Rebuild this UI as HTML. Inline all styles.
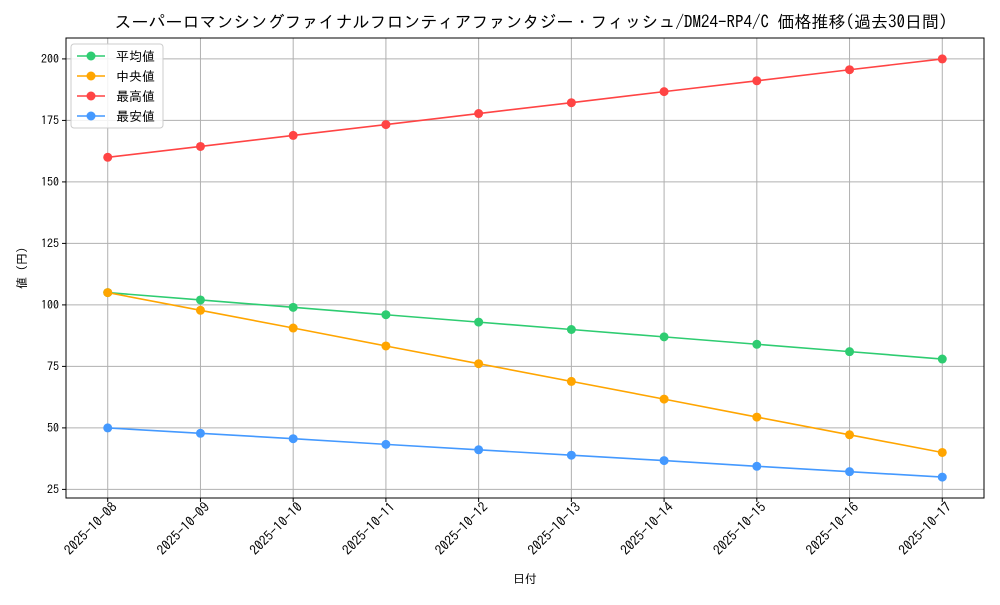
<!DOCTYPE html>
<html><head><meta charset="utf-8"><style>
body{margin:0;background:#fff}
svg text{font-family:"IPAGothic","Noto Sans CJK JP",monospace;fill:#000}
</style></head><body>
<svg id="chart" width="1000" height="600"></svg>
<script>
const dates=["2025-10-08","2025-10-09","2025-10-10","2025-10-11","2025-10-12","2025-10-13","2025-10-14","2025-10-15","2025-10-16","2025-10-17"];
const avgValues=[105,102,99,96,93,90,87,84,81,78];
const medianValues=[105,97.8,90.6,83.3,76.1,68.9,61.7,54.4,47.2,40];
const maxValues=[160,164.4,168.9,173.3,177.8,182.2,186.7,191.1,195.6,200];
const minValues=[50,47.8,45.6,43.3,41.1,38.9,36.7,34.4,32.2,30];
const yTicks=[25,50,75,100,125,150,175,200];
const seriesNames=["平均値","中央値","最高値","最安値"];
const seriesColors=["#2ecc71","#ffa500","#ff4444","#4499ff"];
const NS="http://www.w3.org/2000/svg";
const svg=document.getElementById('chart');
const L=66,R=984,T=38,B=498;
const all=[...avgValues,...medianValues,...maxValues,...minValues];
const mn=Math.min(...all),mx=Math.max(...all),pad=(mx-mn)*0.05;
const y0=mn-pad,y1=mx+pad;
const xs=i=>L+(R-L)*(i+0.45)/(dates.length-1+0.9);
const ys=v=>B-(B-T)*(v-y0)/(y1-y0);
function el(t,a,p){const e=document.createElementNS(NS,t);for(const k in a)e.setAttribute(k,a[k]);(p||svg).appendChild(e);return e;}
yTicks.forEach(v=>{const y=ys(v);
const g=el('line',{x1:L,x2:R,y1:y,y2:y,stroke:'#b0b0b0','stroke-width':1});


el('line',{x1:L-4,x2:L,y1:y,y2:y,stroke:'#000'});
const t=el('text',{x:L-7,y:y+4,'text-anchor':'end','font-size':12});t.textContent=v;


});
dates.forEach((d,i)=>{const x=xs(i);
const g=el('line',{x1:x,x2:x,y1:T,y2:B,stroke:'#b0b0b0','stroke-width':1});


el('line',{x1:x,x2:x,y1:B,y2:B+4,stroke:'#000'});
const ax=x+10,ay=B+10;
const t=el('text',{x:ax,y:ay,'text-anchor':'end','font-size':13.5,transform:`rotate(-45 ${ax} ${ay})`});t.textContent=d;


});
const frame=el('rect',{x:L,y:T,width:R-L,height:B-T,fill:'none',stroke:'#000','stroke-width':1});


[avgValues,medianValues,maxValues,minValues].forEach((vals,s)=>{
const g=el('g',{});


el('polyline',{points:vals.map((v,i)=>xs(i)+','+ys(v)).join(' '),fill:'none',stroke:seriesColors[s],'stroke-width':1.6},g);
vals.forEach((v,i)=>{const c=el('circle',{cx:xs(i),cy:ys(v),r:4.5,fill:seriesColors[s]},g);

});
});
const lg=el('g',{});


el('rect',{x:71,y:44,width:92,height:84,rx:3,fill:'#fff','fill-opacity':0.85,stroke:'#ccc'},lg);
seriesNames.forEach((n,i)=>{const y=56+i*20;
const e=el('g',{},lg);


el('line',{x1:77,x2:105,y1:y,y2:y,stroke:seriesColors[i],'stroke-width':1.6},e);
el('circle',{cx:91,cy:y,r:4.5,fill:seriesColors[i]},e);
const t=el('text',{x:116,y:y+5,'font-size':13},e);t.textContent=n;});
const title=el('text',{x:531,y:28,'text-anchor':'middle','font-size':17});
title.textContent="スーパーロマンシングファイナルフロンティアファンタジー・フィッシュ/DM24-RP4/C 価格推移(過去30日間)";


const xt=el('text',{x:525,y:583,'text-anchor':'middle','font-size':12});xt.textContent="日付";


const yt=el('text',{x:26,y:268,'text-anchor':'middle','font-size':12,transform:'rotate(-90 26 268)'});yt.textContent="値 (円)";


</script></body></html>
